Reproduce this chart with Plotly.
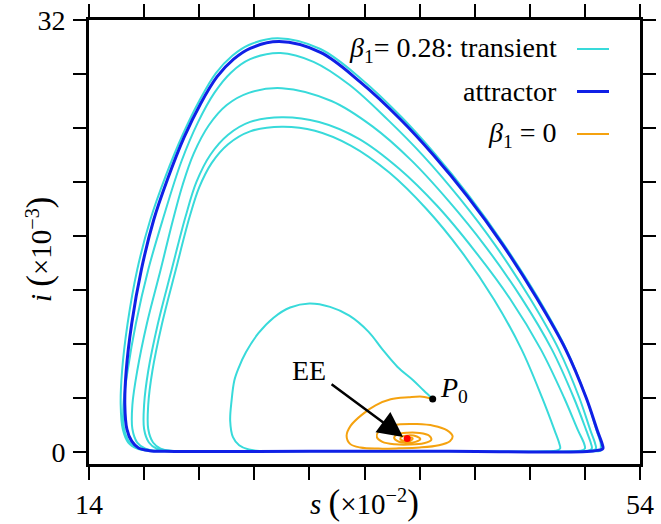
import plotly.graph_objects as go

# ---------------- data (s in 1e-2, i in 1e-3) ----------------
# transient (beta1 = 0.28): first small loop starting at P0, then bottom run
TR0_S = [38.95, 38.3, 37.55, 36.4, 35.3, 34.3, 32.9, 31.5, 30.0, 28.6, 27.4, 26.3, 25.4, 24.85, 24.55, 24.35, 24.25, 24.45, 24.9, 25.6, 26.5, 30.0, 40.0, 47.2, 47.9]
TR0_I = [3.92, 4.55, 5.3, 6.3, 7.6, 8.9, 10.1, 10.75, 11.0, 10.7, 9.95, 8.8, 7.4, 6.2, 5.3, 3.8, 2.3, 1.1, 0.5, 0.18, 0.07, 0.05, 0.05, 0.05, 0.1]
# loop A (peak ~24.1)
TRA_S = [48.2, 48.15, 47.8, 46.9, 45.4, 43.4, 41.0, 38.5, 35.8, 33.0, 30.4, 28.0, 25.7, 24.1, 22.9, 22.0, 21.3, 20.3, 19.3, 18.6, 18.3, 18.3, 18.65, 19.2, 20.1, 21.0, 30.0, 40.0, 49.0, 49.7]
TRA_I = [0.25, 0.6, 1.6, 4.0, 7.6, 11.3, 14.9, 18.0, 20.7, 22.7, 23.8, 24.1, 23.75, 22.8, 21.4, 19.6, 17.4, 13.5, 9.5, 6.0, 3.5, 1.7, 0.7, 0.25, 0.08, 0.05, 0.05, 0.05, 0.05, 0.1]
# loop B (peak ~24.8)
TRB_S = [50.0, 49.95, 49.5, 48.5, 46.8, 44.6, 42.0, 39.3, 36.5, 33.6, 30.7, 28.0, 25.7, 24.1, 22.8, 21.8, 21.0, 20.0, 19.0, 18.3, 18.0, 18.0, 18.35, 18.9, 19.8, 21.0, 30.0, 40.0, 49.5, 50.2]
TRB_I = [0.25, 0.6, 1.6, 4.0, 7.6, 11.3, 14.9, 18.2, 21.0, 23.2, 24.45, 24.8, 24.45, 23.5, 22.0, 20.0, 17.4, 13.5, 9.5, 6.0, 3.5, 1.7, 0.7, 0.25, 0.08, 0.05, 0.05, 0.05, 0.05, 0.1]
# loop C (peak ~26.95)
TRC_S = [50.5, 50.45, 50.1, 49.2, 47.6, 45.4, 42.8, 40.1, 37.4, 34.6, 31.6, 28.0, 25.6, 24.0, 22.7, 21.6, 20.8, 20.1, 19.2, 18.2, 17.5, 17.15, 17.15, 17.5, 18.1, 19.0, 20.0, 30.0, 40.0, 49.8, 50.5]
TRC_I = [0.25, 0.6, 1.6, 4.0, 7.6, 11.4, 15.2, 18.6, 21.6, 24.1, 26.0, 26.95, 26.6, 25.7, 24.2, 22.1, 19.8, 17.2, 13.5, 9.5, 6.0, 3.5, 1.7, 0.7, 0.25, 0.08, 0.05, 0.05, 0.05, 0.05, 0.1]
# loop D (peak ~29.56)
TRD_S = [50.8, 50.75, 50.4, 49.6, 48.1, 46.0, 43.5, 40.9, 38.3, 35.7, 32.9, 30.3, 27.9, 25.7, 24.3, 23.1, 21.9, 20.7, 19.35, 18.3, 17.4, 16.8, 16.5, 16.55, 16.95, 17.6, 18.5, 19.5, 30.0, 40.0, 50.45, 51.15]
TRD_I = [0.25, 0.6, 1.6, 4.0, 7.6, 11.4, 15.3, 18.8, 21.9, 24.6, 27.2, 28.9, 29.56, 29.1, 28.1, 26.6, 24.4, 21.5, 17.2, 13.5, 9.5, 6.0, 3.5, 1.7, 0.7, 0.25, 0.08, 0.05, 0.05, 0.05, 0.05, 0.1]
# loop E (outermost, merging into the attractor)
TRE_S = [51.15, 51.15, 50.85, 50.1, 48.65, 46.6, 44.1, 41.6, 39.1, 36.7, 33.8, 30.8, 27.7, 25.6, 24.4, 23.2, 22.0, 20.8, 19.55, 18.45, 17.5, 16.8, 16.4, 16.3, 16.45, 16.85, 17.5, 18.4, 19.5]
TRE_I = [0.25, 0.6, 1.6, 4.0, 7.6, 11.4, 15.4, 18.95, 22.1, 24.8, 27.6, 29.85, 30.65, 30.15, 29.35, 28.05, 26.0, 23.5, 20.4, 17.2, 13.5, 9.5, 6.0, 3.5, 1.7, 0.7, 0.25, 0.08, 0.05]

# attractor (closed orbit)
ATT_S = [19.5, 30.0, 40.0, 50.6, 51.3, 51.25, 50.9, 50.1, 48.6, 46.5, 44.0, 41.5, 39.0, 36.6, 33.7, 30.8, 27.8, 25.7, 24.5, 23.3, 22.1, 20.9, 19.7, 18.7, 17.8, 17.1, 16.7, 16.6, 16.75, 17.1, 17.6, 18.4, 19.5]
ATT_I = [0.05, 0.05, 0.05, 0.08, 0.25, 0.6, 1.6, 4.0, 7.6, 11.4, 15.4, 18.9, 22.0, 24.65, 27.4, 29.6, 30.4, 29.9, 29.1, 27.8, 25.8, 23.3, 20.2, 17.2, 13.5, 9.5, 6.0, 3.5, 1.7, 0.8, 0.3, 0.1, 0.05]

# beta1 = 0 : spiral into the endemic equilibrium
B0_S = [38.95, 38.2, 37.2, 35.9, 34.8, 33.8, 33.0, 32.7, 32.95, 33.7, 35.0, 36.5, 38.0, 39.4, 40.2, 40.4, 40.0, 39.0, 37.8, 36.6, 35.6, 35.0, 34.9, 35.3, 36.2, 37.3, 38.3, 38.85, 38.7, 38.0, 37.1, 36.4, 36.15, 36.4, 37.0, 37.7, 38.05, 37.8, 37.2, 36.7, 36.6, 36.9, 37.35, 37.5, 37.25, 37.0, 37.1]
B0_I = [3.92, 4.1, 4.05, 3.9, 3.45, 2.75, 1.95, 1.2, 0.6, 0.33, 0.25, 0.27, 0.33, 0.5, 0.8, 1.15, 1.6, 1.95, 2.07, 2.05, 1.85, 1.5, 1.1, 0.75, 0.57, 0.55, 0.65, 0.9, 1.2, 1.4, 1.42, 1.3, 1.05, 0.8, 0.68, 0.75, 0.95, 1.15, 1.23, 1.13, 0.95, 0.82, 0.85, 1.0, 1.08, 1.0, 1.0]

P0_S, P0_I = [38.95], [3.92]
EE_S, EE_I = [37.1], [1.0]

X_TICKS = [14, 18, 22, 26, 30, 34, 38, 42, 46, 50, 54]
X_TEXT = ["14", "", "", "", "", "", "", "", "", "", "54"]
Y_TICKS = [0, 4, 8, 12, 16, 20, 24, 28, 32]
Y_TEXT = ["0", "", "", "", "", "", "", "", "32"]

C_TR = "#38dada"
C_ATT = "#1020e6"
C_B0 = "#f5a20f"
FONT = "Liberation Serif, Times New Roman, DejaVu Serif, serif"
FS = 28

tr_s = TR0_S + TRA_S + TRB_S + TRC_S + TRD_S + TRE_S
tr_i = TR0_I + TRA_I + TRB_I + TRC_I + TRD_I + TRE_I

fig = go.Figure()
fig.add_trace(go.Scatter(x=tr_s, y=tr_i, mode="lines", line=dict(color=C_TR, width=2, shape="spline", smoothing=1.0), showlegend=False))
fig.add_trace(go.Scatter(x=ATT_S, y=ATT_I, mode="lines", line=dict(color=C_ATT, width=3, shape="spline", smoothing=1.0), showlegend=False))
fig.add_trace(go.Scatter(x=B0_S, y=B0_I, mode="lines", line=dict(color=C_B0, width=2, shape="spline", smoothing=1.0), showlegend=False))
fig.add_trace(go.Scatter(x=P0_S, y=P0_I, mode="markers", marker=dict(color="black", size=7), showlegend=False))
fig.add_trace(go.Scatter(x=EE_S, y=EE_I, mode="markers", marker=dict(color="red", size=7), showlegend=False))

ax_common = dict(showgrid=False, zeroline=False, showline=True, linecolor="black", linewidth=3,
                 mirror="ticks", ticks="outside", ticklen=13, tickwidth=1.5, tickcolor="black",
                 automargin=False,
                 tickfont=dict(family=FONT, size=28, color="black"))
fig.update_xaxes(range=[14, 54], tickvals=X_TICKS, ticktext=X_TEXT, **ax_common)
fig.update_yaxes(range=[-0.89, 32], tickvals=Y_TICKS, ticktext=Y_TEXT, ticklabelstandoff=2, **ax_common)

BIGP = "<span style='font-size:35px'>(</span>"
BIGQ = "<span style='font-size:35px'>)</span>"
ann = []
# axis titles
ann.append(dict(text="<i>s</i> " + BIGP + "×10<sup>−2</sup>" + BIGQ, xref="paper", yref="paper", x=0.5, y=-0.086,
                xanchor="center", yanchor="middle", showarrow=False, font=dict(family=FONT, size=29, color="black")))
ann.append(dict(text="<i>i</i> " + BIGP + "×10<sup>−3</sup>" + BIGQ, xref="paper", yref="paper", x=-0.09, y=0.485,
                xanchor="center", yanchor="middle", textangle=-90, showarrow=False, font=dict(family=FONT, size=29, color="black")))
# labels
ann.append(dict(text="EE", x=29.97, y=6.0, xref="x", yref="y", showarrow=False, xanchor="center", yanchor="middle",
                font=dict(family=FONT, size=FS, color="black")))
ann.append(dict(text="", x=36.8, y=1.11, ax=31.5, ay=5.1, xref="x", yref="y", axref="x", ayref="y",
                showarrow=True, arrowhead=2, arrowsize=2.0, arrowwidth=2.5, arrowcolor="black", standoff=0))
ann.append(dict(text="<i>P</i><sub>0</sub>", x=39.3, y=4.6, xref="x", yref="y", showarrow=False, xanchor="left", yanchor="middle",
                font=dict(family=FONT, size=FS, color="black")))

# legend (text right-aligned, sample line on the right)
legend_rows = [("<i>β</i><sub>1</sub>= 0.28: transient", C_TR, 2, 49),
               ("attractor", C_ATT, 3, 91.5),
               ("<i>β</i><sub>1</sub> = 0", C_B0, 2, 134)]
shapes = []
L, T, W, H = 89, 20, 551, 444
for txt, col, w, py in legend_rows:
    yp = (T + H - py) / H
    ann.append(dict(text=txt, xref="paper", yref="paper", x=(559 - L) / W, y=yp, xanchor="right", yanchor="middle",
                    showarrow=False, font=dict(family=FONT, size=FS, color="black")))
    shapes.append(dict(type="line", xref="paper", yref="paper", x0=(577 - L) / W, x1=(609 - L) / W, y0=yp, y1=yp,
                       line=dict(color=col, width=w)))

fig.update_layout(width=661, height=524, autosize=False,
                  margin=dict(l=89, r=21, t=20, b=60),
                  paper_bgcolor="white", plot_bgcolor="white",
                  annotations=ann, shapes=shapes, showlegend=False)

fig.write_html("out.html")
